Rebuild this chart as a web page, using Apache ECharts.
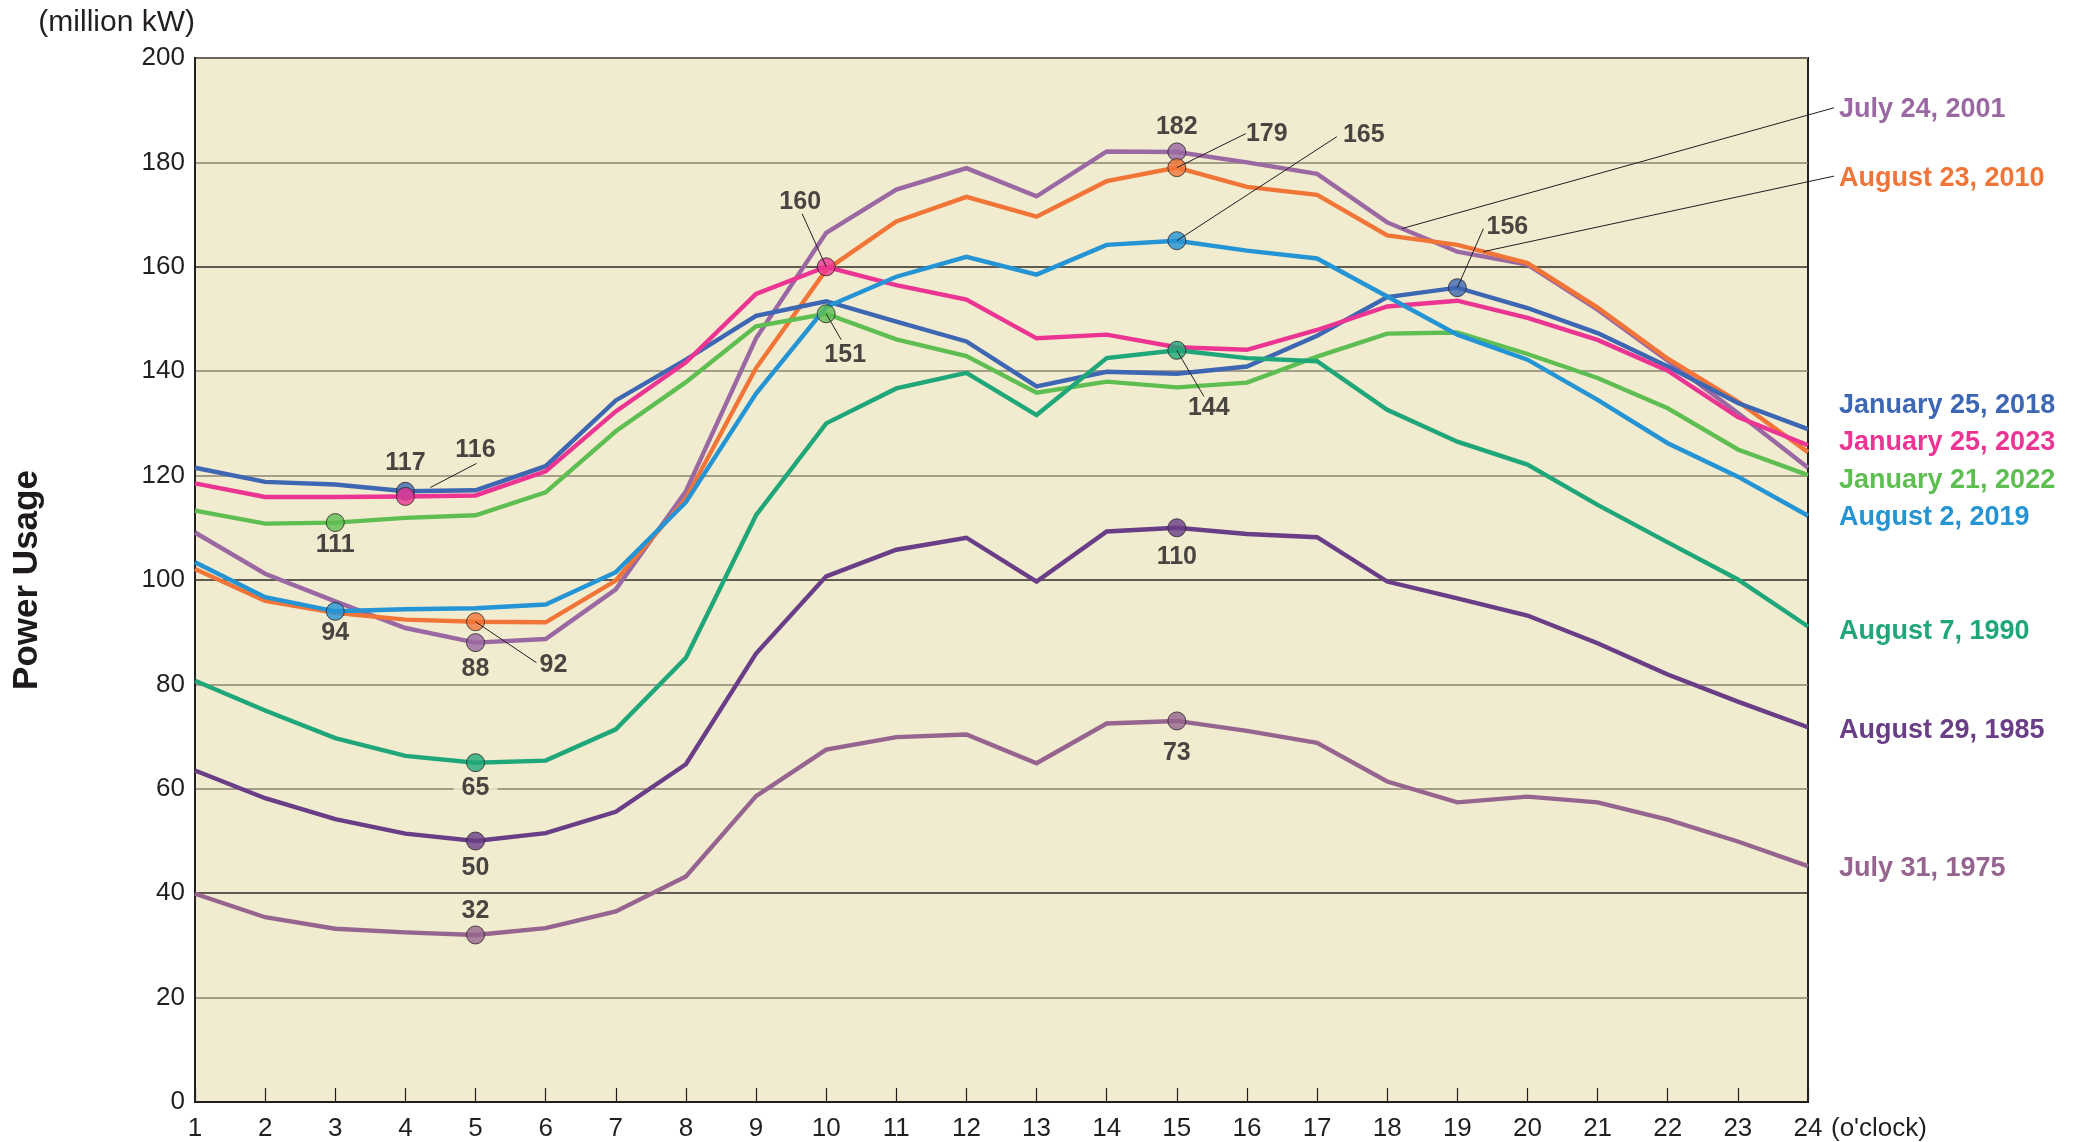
<!DOCTYPE html>
<html lang="en">
<head>
<meta charset="UTF-8">
<title>Power Usage</title>
<script src="https://cdn.jsdelivr.net/npm/echarts@6/dist/echarts.min.js"></script>
<style>
  * { margin: 0; padding: 0; }
  html, body { width: 100%; height: 100%; background: #fff; }
  #main { width: 2082px; height: 1142px; }
</style>
</head>
<body>
<div id="main"></div>
<script>
// hours of the day (x axis)
var hours = [1, 2, 3, 4, 5, 6, 7, 8, 9, 10, 11, 12, 13, 14, 15, 16, 17, 18, 19, 20, 21, 22, 23, 24];
var yTicks = [0, 20, 40, 60, 80, 100, 120, 140, 160, 180, 200];

var names = ['July 24, 2001', 'August 23, 2010', 'January 25, 2018', 'January 25, 2023',
  'January 21, 2022', 'August 2, 2019', 'August 7, 1990', 'August 29, 1985', 'July 31, 1975'];

// power usage, million kW
var jul2001 = [109.1, 101.2, 95.9, 90.8, 88, 88.7, 98.2, 117, 146.3, 166.5, 174.8, 178.9, 173.5, 182.1, 182, 180, 177.8, 168.5, 162.9, 160.4, 151.8, 142, 132, 121.5];
var aug2010 = [102.1, 96.0, 93.7, 92.4, 92, 91.9, 99.9, 115.6, 140.6, 159.4, 168.7, 173.4, 169.6, 176.4, 179, 175.3, 173.8, 166.0, 164.2, 160.7, 152.2, 142.4, 134.2, 124.5];
var jan2018 = [121.5, 118.8, 118.3, 117, 117.2, 121.8, 134.4, 142.2, 150.6, 153.4, 149.5, 145.7, 137.1, 139.9, 139.5, 140.9, 146.8, 154.2, 156, 152.1, 147.3, 140.9, 133.9, 128.9];
var jan2023 = [118.5, 115.9, 115.9, 116, 116.2, 120.8, 132.3, 141.7, 154.8, 160, 156.5, 153.7, 146.3, 147, 144.6, 144.1, 147.9, 152.4, 153.5, 150.2, 146.0, 140.1, 131.2, 125.8];
var jan2022 = [113.3, 110.8, 111, 111.9, 112.4, 116.8, 128.5, 137.9, 148.6, 151, 146.1, 142.9, 135.9, 138.0, 136.9, 137.8, 142.8, 147.2, 147.4, 143.3, 138.7, 132.9, 125.0, 120.1];
var aug2019 = [103.4, 96.7, 94, 94.4, 94.6, 95.3, 101.5, 114.9, 135.7, 152.3, 158.1, 161.9, 158.5, 164.2, 165, 163.1, 161.6, 154.3, 147.0, 142.2, 134.5, 126.2, 119.8, 112.3];
var aug1990 = [80.7, 75.0, 69.7, 66.3, 65, 65.4, 71.4, 85.1, 112.4, 130.0, 136.7, 139.7, 131.6, 142.5, 144, 142.5, 141.9, 132.6, 126.5, 122.1, 114.4, 107.2, 100.1, 91.1];
var aug1985 = [63.5, 58.2, 54.2, 51.4, 50, 51.5, 55.6, 64.7, 85.9, 100.7, 105.8, 108.1, 99.7, 109.3, 110, 108.8, 108.2, 99.7, 96.5, 93.2, 87.9, 81.9, 76.7, 71.8];
var jul1975 = [39.9, 35.4, 33.2, 32.5, 32, 33.3, 36.5, 43.2, 58.6, 67.5, 69.9, 70.4, 64.9, 72.5, 73, 71.1, 68.8, 61.4, 57.4, 58.5, 57.4, 54.1, 49.9, 45.2];

var usage = [jul2001, aug2010, jan2018, jan2023, jan2022, aug2019, aug1990, aug1985, jul1975];
// hours that carry a dot and a value label
var markedHours = [[5, 15], [5, 15], [4, 19], [4, 10], [3, 10], [3, 15], [5, 15], [5, 15], [5, 15]];

var colors = ['#9a68a2', '#f27538', '#3d66b3', '#ec3592', '#5fbe52', '#2494d4', '#1fa779', '#6a3d87', '#96658f'];

// where each value label sits relative to its dot: off=[dx,dy], lead=[x1,y1,x2,y2] leader line
var callouts = {
  '0-5': { off: [0, 26] }, '0-15': { off: [0, -25] },
  '1-5': { off: [78, 43], lead: [0, 0, 61, 41] }, '1-15': { off: [90, -34], lead: [0, 0, 69, -34] },
  '2-4': { off: [0, -28] }, '2-19': { off: [50, -61], lead: [0, 0, 26, -59] },
  '3-4': { off: [70, -46], lead: [25, -9, 71, -33] }, '3-10': { off: [-26, -65], lead: [0, 0, -24, -53] },
  '4-3': { off: [0, 23] }, '4-10': { off: [19, 41], lead: [0, 0, 15, 26] },
  '5-3': { off: [0, 22] }, '5-15': { off: [187, -106], lead: [0, 0, 160, -104] },
  '6-5': { off: [0, 25], bg: true }, '6-15': { off: [32, 58], lead: [0, 0, 27, 46] },
  '7-5': { off: [0, 27] }, '7-15': { off: [0, 29] },
  '8-5': { off: [0, -24] }, '8-15': { off: [0, 32] }
};
// vertical shift of the name at the right end of each line
var endLabelDy = [-358, -274, -24, -3, 5, 2, 5, 3, 2];
// series whose name is joined to its line by a leader, and the hour it starts at
var nameLeaders = [{ s: 0, at: 18.21 }, { s: 1, at: 19.37 }];

var FONT = 'Liberation Sans, Arial, Helvetica, sans-serif';
var BG = '#f1ebcf';

var chart = echarts.init(document.getElementById('main'));

var series = [];
usage.forEach(function (vals, i) {
  series.push({
    name: names[i],
    type: 'line',
    data: hours.map(function (h, k) { return [h, vals[k]]; }),
    showSymbol: false,
    symbol: 'none',
    lineStyle: { color: colors[i], width: 4.4, join: 'miter' },
    itemStyle: { color: colors[i] },
    silent: true,
    z: 2,
    endLabel: {
      show: true,
      formatter: '{a}',
      distance: 31,
      offset: [0, endLabelDy[i]],
      color: colors[i],
      fontFamily: FONT,
      fontSize: 27,
      fontWeight: 'bold'
    }
  });
});
usage.forEach(function (vals, i) {
  series.push({
    name: names[i] + ' marks',
    type: 'scatter',
    symbol: 'circle',
    symbolSize: 18,
    silent: true,
    z: 4,
    itemStyle: { color: colors[i], borderColor: '#2a2326', borderWidth: 1 },
    data: markedHours[i].map(function (h) {
      var c = callouts[i + '-' + h];
      var lab = { offset: c.off };
      if (c.bg) { lab.backgroundColor = BG; lab.padding = [0, 8]; }
      return { value: [h, vals[h - 1]], label: lab };
    }),
    label: {
      show: true,
      position: 'inside',
      formatter: function (p) { return p.value[1]; },
      color: '#1e1a1b',
      fontFamily: FONT,
      fontSize: 25,
      fontWeight: 'bold'
    }
  });
});

var powerText = {
  type: 'text',
  x: 27, y: 580,
  rotation: Math.PI / 2,
  style: {
    text: 'Power Usage',
    fill: '#1e1a1b',
    font: 'bold 35px ' + FONT,
    textAlign: 'center',
    textVerticalAlign: 'middle'
  }
};

var option = {
  animation: false,
  backgroundColor: '#fff',
  grid: {
    left: 195, right: 274, top: 58, bottom: 40,
    show: true,
    backgroundColor: BG,
    borderColor: '#231f20',
    borderWidth: 2
  },
  xAxis: {
    type: 'value',
    min: 1, max: 24, interval: 1,
    name: "(o'clock)",
    nameLocation: 'end',
    nameGap: 23,
    nameTextStyle: { color: '#231f20', fontFamily: FONT, fontSize: 26, align: 'left', verticalAlign: 'top', padding: [14, 0, 0, 0] },
    axisLine: { show: true, lineStyle: { color: '#231f20', width: 2 } },
    axisTick: { show: true, inside: true, length: 14, lineStyle: { color: '#231f20', width: 1.2 } },
    axisLabel: { color: '#231f20', fontFamily: FONT, fontSize: 26, margin: 14, showMinLabel: true, showMaxLabel: true },
    splitLine: { show: false }
  },
  yAxis: {
    type: 'value',
    min: yTicks[0], max: yTicks[yTicks.length - 1], interval: 20,
    name: '(million kW)',
    nameLocation: 'end',
    nameGap: 35,
    nameTextStyle: { color: '#231f20', fontFamily: FONT, fontSize: 30, align: 'right', verticalAlign: 'middle' },
    axisLine: { show: true, lineStyle: { color: '#231f20', width: 2 } },
    axisTick: { show: false },
    axisLabel: { color: '#231f20', fontFamily: FONT, fontSize: 26, margin: 10 },
    splitLine: { show: true, lineStyle: { color: ['#8a8371', '#8a8371', '#2e2a24'], width: 1.5 } }
  },
  series: series,
  graphic: [powerText]
};
chart.setOption(option);

// leader lines, placed from the dots' pixel positions
var lines = [];
usage.forEach(function (vals, i) {
  markedHours[i].forEach(function (h) {
    var c = callouts[i + '-' + h];
    if (!c.lead) return;
    var p = chart.convertToPixel({ seriesIndex: i }, [h, vals[h - 1]]);
    lines.push({
      type: 'line', z: 100, silent: true,
      shape: { x1: p[0] + c.lead[0], y1: p[1] + c.lead[1], x2: p[0] + c.lead[2], y2: p[1] + c.lead[3] },
      style: { stroke: '#231f20', lineWidth: 1 }
    });
  });
});
nameLeaders.forEach(function (n) {
  var vals = usage[n.s];
  var k = Math.floor(n.at) - 1, t = n.at - Math.floor(n.at);
  var v = vals[k] + (vals[k + 1] - vals[k]) * t;
  var p = chart.convertToPixel({ seriesIndex: n.s }, [n.at, v]);
  var e = chart.convertToPixel({ seriesIndex: n.s }, [24, vals[23]]);
  lines.push({
    type: 'line', z: 100, silent: true,
    shape: { x1: p[0], y1: p[1], x2: e[0] + 26, y2: e[1] + endLabelDy[n.s] - 2 },
    style: { stroke: '#231f20', lineWidth: 1 }
  });
});
chart.setOption({ graphic: [powerText].concat(lines) });
</script>
</body>
</html>
